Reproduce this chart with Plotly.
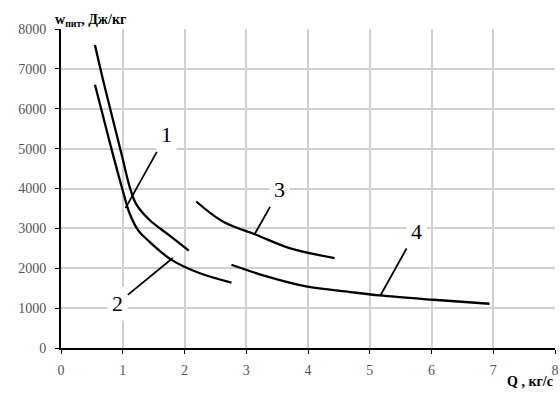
import plotly.graph_objects as go

# curve data
q1 = [0.55, 0.7, 0.85, 1.0, 1.11, 1.22, 1.43, 1.75, 2.07]
w1 = [7600, 6600, 5670, 4740, 4050, 3600, 3216, 2830, 2440]

q2 = [0.55, 0.7, 0.85, 1.0, 1.11, 1.25, 1.43, 1.79, 2.24, 2.76]
w2 = [6600, 5700, 4800, 3950, 3380, 2950, 2670, 2210, 1880, 1640]

q3 = [2.19, 2.62, 3.16, 3.70, 4.43]
w3 = [3674, 3173, 2840, 2506, 2256]

q4 = [2.76, 3.33, 3.97, 4.68, 5.16, 6.03, 6.94]
w4 = [2088, 1795, 1544, 1404, 1318, 1210, 1110]

x_ticks = [0, 1, 2, 3, 4, 5, 6, 7, 8]
y_ticks = [0, 1000, 2000, 3000, 4000, 5000, 6000, 7000, 8000]

# curve labels: text, label position, point the leader touches
labels = ["1", "2", "3", "4"]
label_xy = [(1.705, 5346), (0.92, 1128), (3.54, 3967), (5.75, 2922)]
leader_xy = [(1.045, 3509), (1.81, 2256), (3.14, 2865), (5.17, 1311)]

serif = "Liberation Serif, Times New Roman, serif"

fig = go.Figure()
for q, w in [(q1, w1), (q2, w2), (q3, w3), (q4, w4)]:
    fig.add_trace(go.Scatter(x=q, y=w, mode="lines",
                             line=dict(color="black", width=2.3, shape="spline"),
                             showlegend=False))

for t, (lx, ly), (px, py) in zip(labels, label_xy, leader_xy):
    fig.add_annotation(x=px, y=py, ax=lx, ay=ly, xref="x", yref="y",
                       axref="x", ayref="y", text=t, showarrow=True,
                       arrowhead=0, arrowwidth=1.8, arrowcolor="black",
                       bgcolor="white", borderpad=4,
                       font=dict(family=serif, size=22, color="black"))

axis_style = dict(showgrid=True, gridcolor="#d0d0d0", gridwidth=1.5,
                  zeroline=False, showline=True, linecolor="black",
                  linewidth=2, ticks="outside", ticklen=4, tickcolor="black",
                  automargin=False, ticklabeloverflow="allow",
                  tickmode="array",
                  tickfont=dict(family=serif, size=14, color="#555"))

fig.update_layout(
    width=560, height=394,
    margin=dict(l=61, r=5, t=29, b=46),
    plot_bgcolor="white", paper_bgcolor="white",
    font=dict(family=serif),
    xaxis=dict(range=[0, 8], tickvals=x_ticks, ticklabelstandoff=4, **axis_style),
    yaxis=dict(range=[0, 8000], tickvals=y_ticks, ticklabelstandoff=6, **axis_style),
)

fig.add_annotation(x=0, y=1, xref="paper", yref="paper", xanchor="left",
                   yanchor="bottom", showarrow=False, xshift=-8, yshift=-2,
                   text="<b>w<sub>пит</sub>, Дж/кг</b>",
                   font=dict(family=serif, size=14, color="black"))
fig.add_annotation(x=1, y=0, xref="paper", yref="paper", xanchor="right",
                   yanchor="top", yshift=-24, showarrow=False,
                   text="<b>Q , кг/с</b>",
                   font=dict(family=serif, size=14, color="black"))

# drop the default page margin so the figure fills the window without scrollbars
fig.write_html("out.html", config={"displayModeBar": False},
               post_script="document.body.style.margin='0';"
                           "document.body.style.overflow='hidden';")
